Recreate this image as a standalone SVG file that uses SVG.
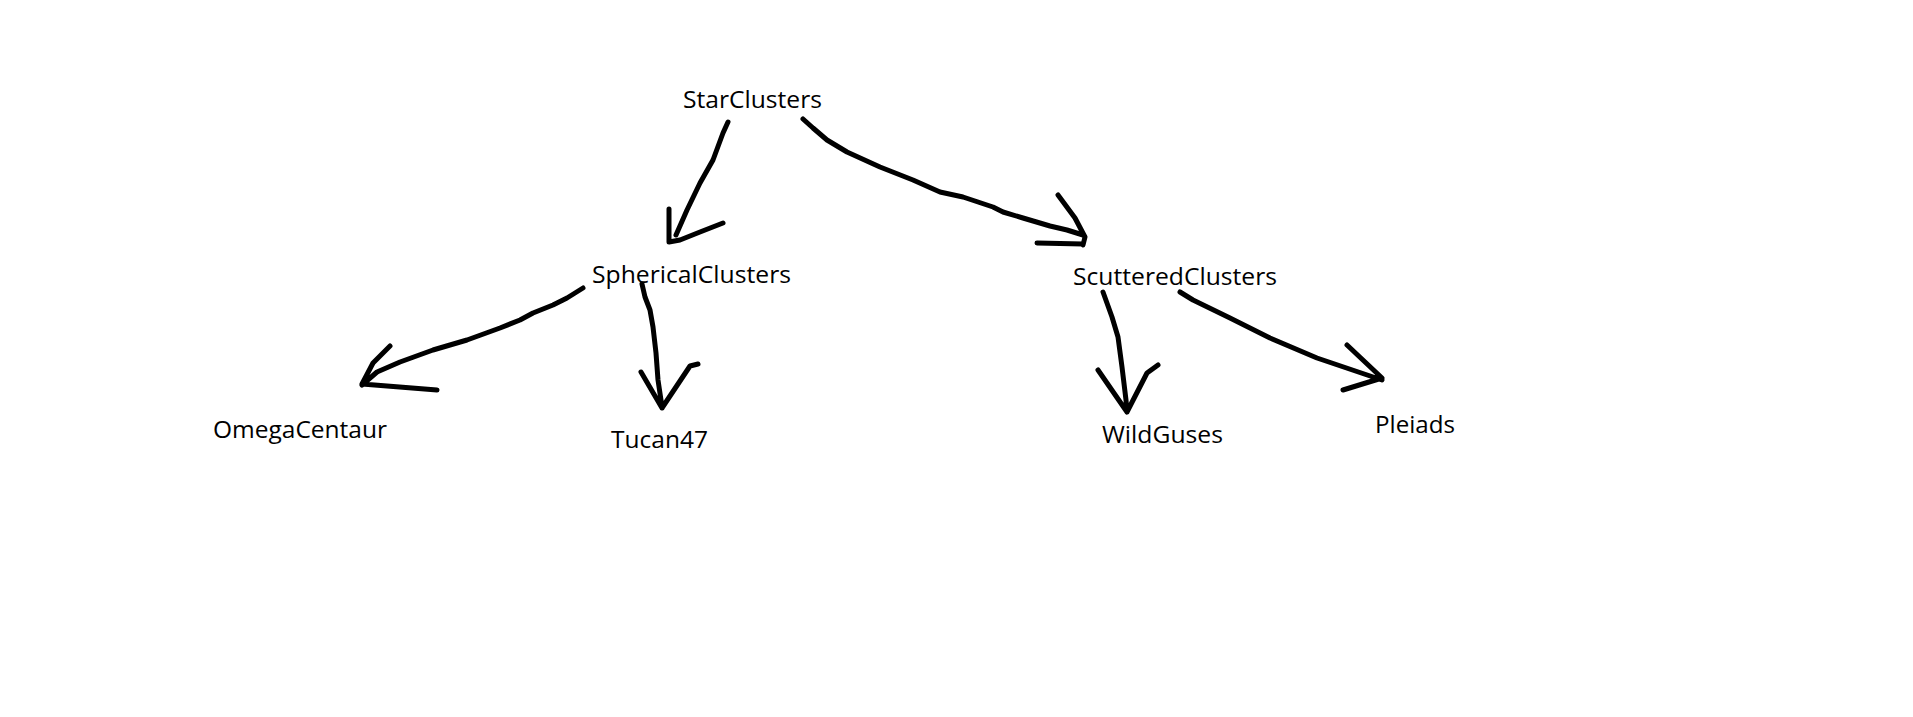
<svg xmlns="http://www.w3.org/2000/svg" width="1913" height="717" viewBox="0 0 1913 717">
<style>
.lbl{font-family:"Open Sans","Liberation Sans",Arial,sans-serif;font-size:23px;fill:#000}
.stroke{fill:none;stroke:#000;stroke-width:5;stroke-linecap:round;stroke-linejoin:round}
</style>
<rect x="0" y="0" width="1913" height="717" fill="#fff"/>
<g id="connectors">
<path id="e-star-spherical" class="stroke" d="M728,122 L723,133 L713,160 L700,183 L687,210 L676,235 M669,209 L669,242 L680,240 L700,232 L723,223"/>
<path id="e-star-scuttered" class="stroke" d="M803,119 L813,128 L827,140 L847,152 L880,167 L913,180 L940,192 L963,197 L993,207 L1003,212 L1023,218 L1050,226 L1067,230 L1083,235 M1058,195 L1075,218 L1085,237 L1083,245 M1037,243 L1083,244"/>
<path id="e-spherical-omega" class="stroke" d="M583,288 L567,298 L553,305 L533,313 L520,320 L500,328 L467,340 L433,350 L400,362 L377,372 L362,385 M390,346 L373,363 L362,384 L437,390"/>
<path id="e-spherical-tucan" class="stroke" d="M642,284 L645,297 L650,310 L653,327 L656,353 L658,380 L661,400 L662,408 M641,372 L662,408 L690,366 L698,364"/>
<path id="e-scuttered-wild" class="stroke" d="M1103,292 L1112,317 L1118,337 L1122,367 L1126,400 L1127,412 M1098,370 L1127,412 L1147,373 L1158,365"/>
<path id="e-scuttered-pleiads" class="stroke" d="M1180,292 L1193,300 L1230,318 L1270,338 L1317,358 L1382,380 M1347,345 L1382,378 L1343,390"/>
</g>
<g id="n-star"><text class="lbl" x="683" y="108" textLength="139" lengthAdjust="spacingAndGlyphs">StarClusters</text></g>
<g id="n-spherical"><text class="lbl" x="592" y="283" textLength="199" lengthAdjust="spacingAndGlyphs">SphericalClusters</text></g>
<g id="n-scuttered"><text class="lbl" x="1073" y="285" textLength="204" lengthAdjust="spacingAndGlyphs">ScutteredClusters</text></g>
<g id="n-omega"><text class="lbl" x="213" y="438" textLength="174" lengthAdjust="spacingAndGlyphs">OmegaCentaur</text></g>
<g id="n-tucan"><text class="lbl" x="611" y="448" textLength="97" lengthAdjust="spacingAndGlyphs">Tucan47</text></g>
<g id="n-wild"><text class="lbl" x="1102" y="443" textLength="121" lengthAdjust="spacingAndGlyphs">WildGuses</text></g>
<g id="n-pleiads"><text class="lbl" x="1375" y="433" textLength="80" lengthAdjust="spacingAndGlyphs">Pleiads</text></g>
</svg>
